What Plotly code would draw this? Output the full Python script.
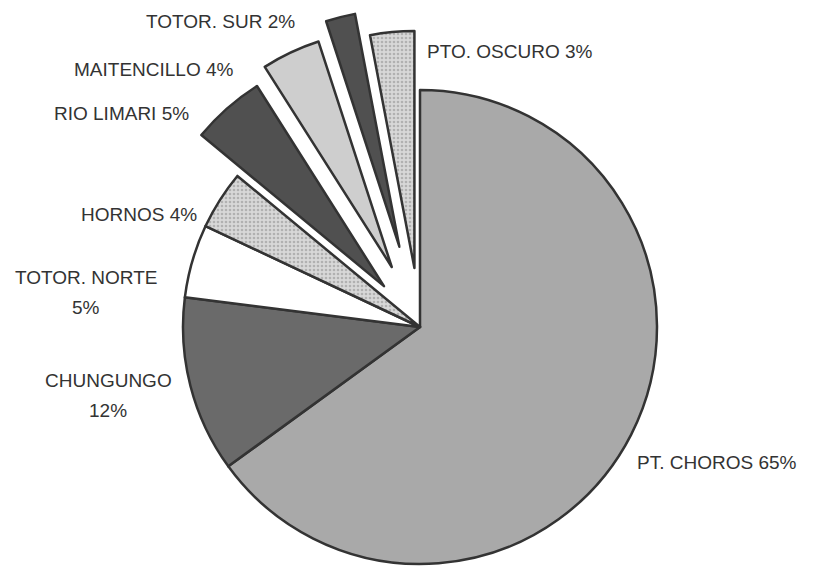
import math
import plotly.graph_objects as go

# ---- data ----
labels = ["PT. CHOROS", "CHUNGUNGO", "TOTOR. NORTE", "HORNOS",
          "RIO LIMARI", "MAITENCILLO", "TOTOR. SUR", "PTO. OSCURO"]
values = [65, 12, 5, 4, 5, 4, 2, 3]
label_text = ["PT. CHOROS 65%", "CHUNGUNGO<br>12%", "TOTOR. NORTE<br>5%", "HORNOS 4%",
              "RIO LIMARI 5%", "MAITENCILLO 4%", "TOTOR. SUR 2%", "PTO. OSCURO 3%"]

# ---- styling / layout ----
pulls = [0, 0, 0, 0, 0.23, 0.28, 0.35, 0.25]
colors = ["#a9a9a9", "#6a6a6a", "#ffffff", "#d8d8d8",
          "#505050", "#cecece", "#505050", "#d8d8d8"]
pattern_shapes = ["", "", "", ".", "", "", "", "."]
label_pos = [(717, 462), (108, 395), (86, 292), (139, 214),
             (122, 113), (154, 70), (220, 21), (510, 51)]
W, H = 826, 568
CX, CY, R = 420, 327, 237
LINE_COLOR = "#333333"
TEXT_COLOR = "#333333"
FONT = "Liberation Sans, Arial, sans-serif"
FSIZE = 19

TRANSPARENT = "rgba(0,0,0,0)"


def domain_for(cx, cy):
    return dict(x=[(cx - R) / W, (cx + R) / W],
                y=[(H - cy - R) / H, (H - cy + R) / H])


def pie_trace(visible_idx, cx, cy):
    cols = [colors[i] if i in visible_idx else TRANSPARENT for i in range(len(values))]
    widths = [2.5 if i in visible_idx else 0 for i in range(len(values))]
    shapes = [pattern_shapes[i] if i in visible_idx else "" for i in range(len(values))]
    return go.Pie(
        labels=labels, values=values, sort=False, direction="clockwise", rotation=0,
        domain=domain_for(cx, cy), textinfo="none", hoverinfo="skip", showlegend=False,
        marker=dict(colors=cols, line=dict(color=LINE_COLOR, width=widths),
                    pattern=dict(shape=shapes, fgcolor="#8a8a8a", size=4, solidity=0.35,
                                 fillmode="overlay")),
    )


fig = go.Figure()
main_idx = [i for i, p in enumerate(pulls) if p == 0]
fig.add_trace(pie_trace(main_idx, CX, CY))

total = sum(values)
cum = 0
for i, v in enumerate(values):
    mid = (cum + v / 2) / total * 2 * math.pi
    cum += v
    if pulls[i] > 0:
        d = pulls[i] * R
        cx = CX + d * math.sin(mid)
        cy = CY - d * math.cos(mid)
        fig.add_trace(pie_trace([i], cx, cy))

annotations = []
for txt, (px, py) in zip(label_text, label_pos):
    lines = txt.split("<br>")
    n = len(lines)
    for k, line in enumerate(lines):
        y = py + (k - (n - 1) / 2) * 30
        annotations.append(dict(
            x=px / W, y=1 - y / H, xref="paper", yref="paper",
            text=line, showarrow=False, xanchor="center", yanchor="middle",
            font=dict(family=FONT, size=FSIZE, color=TEXT_COLOR)))

fig.update_layout(
    width=W, height=H, margin=dict(l=0, r=0, t=0, b=0),
    paper_bgcolor="white", plot_bgcolor="white",
    annotations=annotations,
)

fig.write_html("out.html",
               config={"displayModeBar": False, "staticPlot": True},
               post_script="document.body.style.margin='0';document.body.style.overflow='hidden';")
